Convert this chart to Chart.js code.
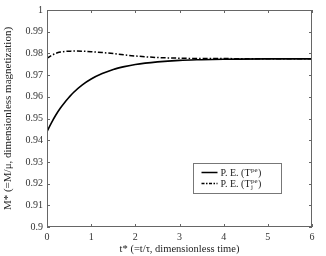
<!DOCTYPE html>
<html>
<head>
<meta charset="utf-8">
<script src="https://cdn.jsdelivr.net/npm/chart.js@4.4.0/dist/chart.umd.min.js"></script>
<style>
  html, body { margin: 0; padding: 0; background: #fff; }
  #wrap { width: 326px; height: 256px; }
</style>
</head>
<body>
<div id="wrap"><canvas id="myChart" width="326" height="256"></canvas></div>
<script>
// dimensionless time t*
const times = [0, 0.1, 0.2, 0.3, 0.4, 0.5, 0.6, 0.8, 1.0, 1.25, 1.5, 1.75, 2, 2.5, 3, 3.5, 4, 5, 6];
// P. E. (T^pe) - solid
const solidVals = [0.9440, 0.9480, 0.9516, 0.9547, 0.9574, 0.9598, 0.9620, 0.9655, 0.9682, 0.9707, 0.9726, 0.9739, 0.9749, 0.9761, 0.9768, 0.9771, 0.9773, 0.9775, 0.9775];
// P. E. (T_j^pe) - dash-dot
const dashVals = [0.9777, 0.9790, 0.9800, 0.9806, 0.9809, 0.9810, 0.9811, 0.9810, 0.9808, 0.9804, 0.9799, 0.9793, 0.9788, 0.9781, 0.9778, 0.9776, 0.9776, 0.9775, 0.9775];

const xTicks = [0, 1, 2, 3, 4, 5, 6];
const yTicks = [0.9, 0.91, 0.92, 0.93, 0.94, 0.95, 0.96, 0.97, 0.98, 0.99, 1];
const yTickLabels = ["0.9", "0.91", "0.92", "0.93", "0.94", "0.95", "0.96", "0.97", "0.98", "0.99", "1"];

const FONT = "'Liberation Serif', 'Times New Roman', serif";
const AXIS = "#666";

function pts(vals) {
  return times.map((t, i) => ({ x: t, y: vals[i] }));
}

// box + inward ticks, matlab style
const frame = {
  id: 'frame',
  afterDraw(chart) {
    const c = chart.ctx, a = chart.chartArea;
    const xs = chart.scales.x, ys = chart.scales.y;
    c.save();
    c.strokeStyle = AXIS;
    c.lineWidth = 1;
    c.strokeRect(a.left + 0.5, a.top + 0.5, a.right - a.left - 1, a.bottom - a.top - 1);
    c.beginPath();
    xTicks.forEach(v => {
      const px = Math.round(xs.getPixelForValue(v)) + 0.5;
      c.moveTo(px, a.bottom); c.lineTo(px, a.bottom - 3);
      c.moveTo(px, a.top); c.lineTo(px, a.top + 3);
    });
    yTicks.forEach(v => {
      const py = Math.round(ys.getPixelForValue(v)) + 0.5;
      c.moveTo(a.left, py); c.lineTo(a.left + 3, py);
      c.moveTo(a.right, py); c.lineTo(a.right - 3, py);
    });
    c.stroke();

    // legend box
    const L = Math.round(xs.getPixelForValue(3.3)) + 0.5;
    const R = Math.round(xs.getPixelForValue(5.3)) + 0.5;
    const T = Math.round(ys.getPixelForValue(0.9295)) + 0.5;
    const B = Math.round(ys.getPixelForValue(0.9158)) + 0.5;
    c.fillStyle = '#fff';
    c.fillRect(L, T, R - L, B - T);
    c.strokeStyle = '#777';
    c.strokeRect(L, T, R - L, B - T);

    const rows = [
      { y: T + 9, dash: [], sub: '' },
      { y: T + 20, dash: [3, 1.5, 1.5, 1.5], sub: 'j' }
    ];
    rows.forEach(r => {
      c.strokeStyle = '#000';
      c.lineWidth = 1.5;
      c.setLineDash(r.dash);
      c.beginPath();
      c.moveTo(L + 8, r.y); c.lineTo(L + 24, r.y);
      c.stroke();
      c.setLineDash([]);
      c.fillStyle = '#222';
      c.textBaseline = 'middle';
      c.font = "10px " + FONT;
      let x = L + 27;
      c.fillText('P. E. (T', x, r.y + 1);
      x += c.measureText('P. E. (T').width;
      c.font = "7px " + FONT;
      c.fillText('pe', x + 0.5, r.y - 2.5);
      if (r.sub) c.fillText(r.sub, x + 0.5, r.y + 4);
      x += c.measureText('pe').width + 1;
      c.font = "10px " + FONT;
      c.fillText(')', x, r.y + 1);
    });
    c.restore();
  }
};

const ctx = document.getElementById('myChart').getContext('2d');

const myChart = new Chart(ctx, {
  type: 'line',
  data: {
    datasets: [
      {
        label: 'P. E. (Tpe)',
        data: pts(solidVals),
        borderColor: '#000',
        borderWidth: 1.6,
        pointRadius: 0,
        cubicInterpolationMode: 'monotone'
      },
      {
        label: 'P. E. (Tjpe)',
        data: pts(dashVals),
        borderColor: '#000',
        borderWidth: 1.5,
        borderDash: [5, 2, 1.5, 2],
        pointRadius: 0,
        cubicInterpolationMode: 'monotone'
      }
    ]
  },
  options: {
    responsive: false,
    animation: false,
    layout: { padding: { top: 10, right: 14, left: 2, bottom: 0 } },
    plugins: { legend: { display: false }, tooltip: { enabled: false } },
    scales: {
      x: {
        type: 'linear',
        min: 0, max: 6,
        afterBuildTicks: s => { s.ticks = xTicks.map(v => ({ value: v })); },
        grid: { display: false, drawTicks: false },
        border: { display: false },
        ticks: { color: '#333', font: { family: FONT, size: 10 }, padding: 4, maxRotation: 0 },
        title: { display: true, text: 't* (=t/τ, dimensionless time)', color: '#222', font: { family: FONT, size: 10.5 }, padding: { top: 2, bottom: 0 } },
        afterFit: s => { s.height = 29; }
      },
      y: {
        min: 0.9, max: 1,
        afterBuildTicks: s => { s.ticks = yTicks.map(v => ({ value: v })); },
        grid: { display: false, drawTicks: false },
        border: { display: false },
        ticks: {
          color: '#333', font: { family: FONT, size: 10 }, padding: 4,
          callback: (v, i) => yTickLabels[i]
        },
        title: { display: true, text: 'M* (=M/μ, dimensionless magnetization)', color: '#222', font: { family: FONT, size: 11 }, padding: { top: 0, bottom: 1 } },
        afterFit: s => { s.width = 45; }
      }
    }
  },
  plugins: [frame]
});
</script>
</body>
</html>
